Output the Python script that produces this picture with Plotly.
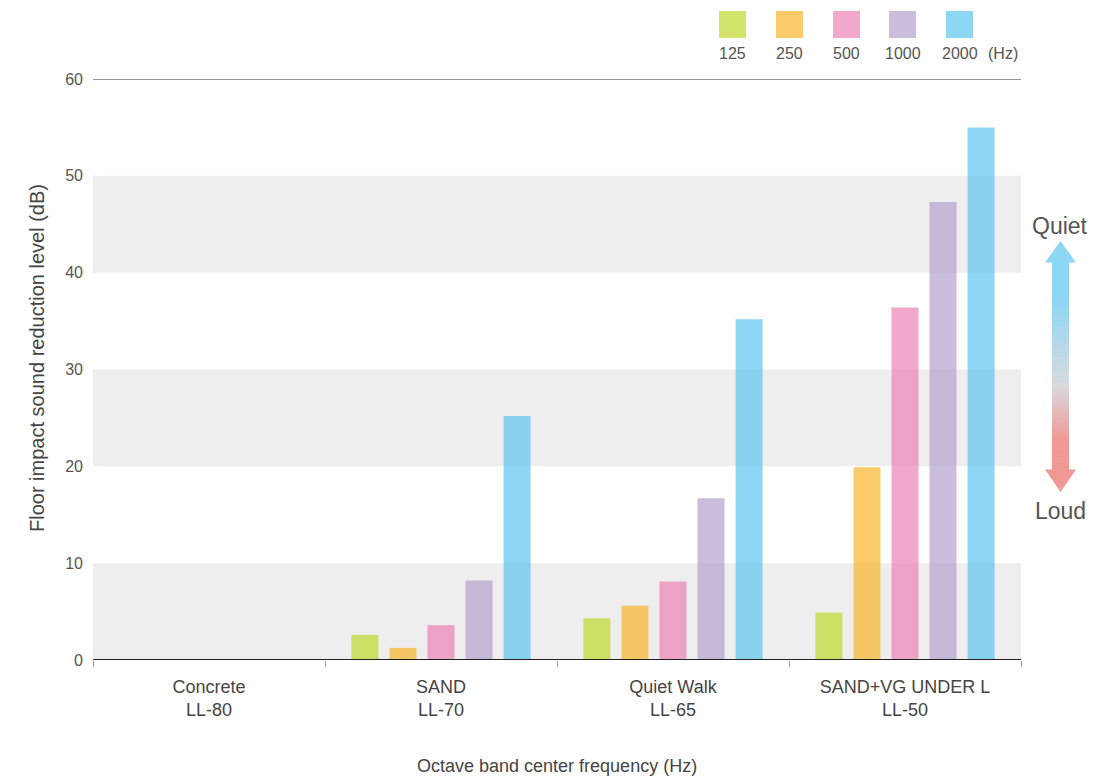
import plotly.graph_objects as go

categories = ["Concrete<br>LL-80", "SAND<br>LL-70", "Quiet Walk<br>LL-65", "SAND+VG UNDER L<br>LL-50"]
bands = ["125", "250", "500", "1000", "2000"]
v125 = [0, 2.6, 4.3, 4.9]
v250 = [0, 1.25, 5.6, 19.9]
v500 = [0, 3.6, 8.1, 36.4]
v1000 = [0, 8.2, 16.7, 47.3]
v2000 = [0, 25.2, 35.2, 55.0]
series = [v125, v250, v500, v1000, v2000]
y_ticks = [0, 10, 20, 30, 40, 50, 60]

# bar fills (semi-transparent) and swatch colours (as seen on white)
bar_cols = ["rgba(189,214,26,0.65)", "rgba(246,175,26,0.65)", "rgba(235,121,173,0.65)",
            "rgba(173,155,201,0.65)", "rgba(80,193,240,0.65)"]
swatch_cols = ["#d4e46a", "#f9cb6a", "#f2a8ca", "#cabedc", "#8dd7f5"]

W, H = 1116, 776
L, R, T, B = 93, 95, 79, 116
pw, ph = W - L - R, H - T - B


def px(x):
    return (x - L) / pw


def py(y):
    return (H - B - y) / ph


fig = go.Figure()
for name, vals, col in zip(bands, series, bar_cols):
    fig.add_trace(go.Bar(x=categories, y=vals, name=name, marker=dict(color=col, line=dict(width=0)),
                         showlegend=False))

shapes = []
# grey bands
for lo in (0, 20, 40):
    shapes.append(dict(type="rect", xref="paper", yref="y", x0=0, x1=1, y0=lo, y1=lo + 10,
                       fillcolor="#eeeeee", line=dict(width=0), layer="below"))
# top and zero lines
shapes.append(dict(type="line", xref="paper", yref="y", x0=0, x1=1, y0=60, y1=60,
                   line=dict(color="#333333", width=1)))
shapes.append(dict(type="line", xref="paper", yref="y", x0=0, x1=1, y0=0, y1=0,
                   line=dict(color="#231f1e", width=2)))

annotations = []
# custom legend
sx = [719, 776, 833, 889, 946]
for x0, col, lab in zip(sx, swatch_cols, bands):
    shapes.append(dict(type="rect", xref="paper", yref="paper", x0=px(x0), x1=px(x0 + 27),
                       y0=py(11), y1=py(38), fillcolor=col, line=dict(width=0)))
    annotations.append(dict(xref="paper", yref="paper", x=px(x0 + 13.5), y=py(53), text=lab,
                            showarrow=False, font=dict(size=16, color="#555555"),
                            xanchor="center", yanchor="middle"))
annotations.append(dict(xref="paper", yref="paper", x=px(1003), y=py(53), text="(Hz)",
                        showarrow=False, font=dict(size=16, color="#555555"),
                        xanchor="center", yanchor="middle"))

# gradient arrow
def lerp(c1, c2, t):
    return tuple(round(a + (b - a) * t) for a, b in zip(c1, c2))

blue = (141, 214, 245)
grey = (216, 218, 222)
red = (240, 152, 148)
top_base, bot_base = 262, 470
n = 70
for i in range(n):
    y0 = top_base + (bot_base - top_base) * i / n
    y1 = top_base + (bot_base - top_base) * (i + 1) / n
    ym = (y0 + y1) / 2
    if ym < 300:
        c = blue
    elif ym < 385:
        c = lerp(blue, grey, (ym - 300) / 85)
    elif ym < 440:
        c = lerp(grey, red, (ym - 385) / 55)
    else:
        c = red
    shapes.append(dict(type="rect", xref="paper", yref="paper", x0=px(1052), x1=px(1069),
                       y0=py(y0), y1=py(y1 + 0.6), fillcolor="rgb(%d,%d,%d)" % c, line=dict(width=0)))
# arrow heads (paper coords path)
def tri(xl, xr, yb, xt, yt):
    return "M %f %f L %f %f L %f %f Z" % (px(xl), py(yb), px(xr), py(yb), px(xt), py(yt))

shapes.append(dict(type="path", xref="paper", yref="paper", path=tri(1045, 1076, top_base + 0.5, 1060.5, 241),
                   fillcolor="rgb(%d,%d,%d)" % blue, line=dict(width=0)))
shapes.append(dict(type="path", xref="paper", yref="paper", path=tri(1045, 1076, bot_base - 0.5, 1060.5, 492),
                   fillcolor="rgb(%d,%d,%d)" % red, line=dict(width=0)))
annotations.append(dict(xref="paper", yref="paper", x=px(1060), y=py(226), text="Quiet", showarrow=False,
                        font=dict(size=23, color="#555555"), xanchor="center", yanchor="middle"))
annotations.append(dict(xref="paper", yref="paper", x=px(1060), y=py(511), text="Loud", showarrow=False,
                        font=dict(size=23, color="#555555"), xanchor="center", yanchor="middle"))
# axis titles
annotations.append(dict(xref="paper", yref="paper", x=px(557), y=py(766), text="Octave band center frequency (Hz)",
                        showarrow=False, font=dict(size=18, color="#444444"), xanchor="center", yanchor="middle"))
annotations.append(dict(xref="paper", yref="paper", x=px(37), y=py(358), text="Floor impact sound reduction level (dB)",
                        showarrow=False, textangle=-90, font=dict(size=20, color="#444444"),
                        xanchor="center", yanchor="middle"))

fig.update_layout(
    width=W, height=H,
    margin=dict(l=L, r=R, t=T, b=B),
    paper_bgcolor="white", plot_bgcolor="white",
    barmode="group", bargap=0.18, bargroupgap=0.29,
    font=dict(family="Liberation Sans, Arial, sans-serif", color="#555555"),
    shapes=shapes, annotations=annotations,
    xaxis=dict(type="category", tickson="boundaries", ticks="outside", ticklen=6, tickcolor="#999999",
               tickwidth=1, showgrid=False, showline=False, zeroline=False, ticklabelstandoff=14,
               tickfont=dict(size=18, color="#444444")),
    yaxis=dict(range=[0, 60], tickvals=y_ticks, showgrid=False, zeroline=False, showline=False,
               ticks="", ticklabelstandoff=9, tickfont=dict(size=16, color="#555555")),
)

fig.write_html("out.html", config={"displayModeBar": False},
               post_script="document.body.style.margin='0';document.body.style.padding='0';")
